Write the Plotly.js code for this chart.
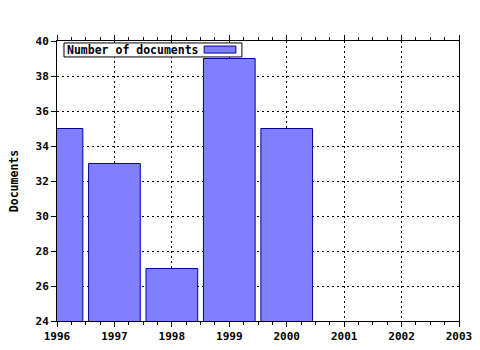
<!DOCTYPE html>
<html><head><meta charset="utf-8">
<script src="https://cdn.plot.ly/plotly-3.0.1.min.js"></script>
<style>html,body{margin:0;padding:0;background:#fff}#c{width:480px;height:350px}</style>
</head><body><div id="c"></div>
<script>
const years = [1996, 1997, 1998, 1999, 2000];
const documents = [35, 33, 27, 39, 35];
const seriesName = 'Number of documents';
const yTitle = 'Documents';
const xTicks = [1996, 1997, 1998, 1999, 2000, 2001, 2002, 2003];

const mono = 'DejaVu Sans Mono';

const trace = {
  type: 'bar', x: years, y: documents, name: seriesName, width: 0.9,
  marker: {color: '#8080ff', line: {color: '#0000a0', width: 1}},
  showlegend: false, hoverinfo: 'none'
};

const layout = {
  width: 480, height: 350,
  margin: {l: 57, r: 21, t: 41, b: 29},
  paper_bgcolor: '#ffffff', plot_bgcolor: '#ffffff',
  bargap: 0,
  xaxis: {
    range: [1996, 2003], tickvals: xTicks, ticktext: xTicks.map(String),
    ticks: 'outside', ticklen: 5, tickcolor: '#000', tickwidth: 1,
    showline: true, linecolor: '#000', linewidth: 1, mirror: 'ticks',
    showgrid: true, gridcolor: '#000', griddash: '2px,3px', gridwidth: 1,
    zeroline: false,
    minor: {dtick: 0.25, tick0: 1996, ticks: 'outside', ticklen: 3, tickcolor: '#000', showgrid: false},
    tickfont: {family: mono, size: 11, color: '#000', weight: 'bold'}
  },
  yaxis: {
    range: [24, 40], dtick: 2, tick0: 24,
    ticks: 'outside', ticklen: 5, tickcolor: '#000', tickwidth: 1,
    showline: true, linecolor: '#000', linewidth: 1, mirror: true,
    showgrid: true, gridcolor: '#000', griddash: '2px,3px', gridwidth: 1,
    zeroline: false,
    tickfont: {family: mono, size: 11, color: '#000', weight: 'bold'},
    title: {text: yTitle, standoff: 14, font: {family: mono, size: 11.5, color: '#000', weight: 'bold'}}
  },
  shapes: [
    {type: 'rect', xref: 'paper', yref: 'paper', x0: 0.0174, x1: 0.460, y0: 0.943, y1: 0.993,
     fillcolor: '#ffffff', line: {color: '#000', width: 1}, layer: 'above'},
    {type: 'rect', xref: 'paper', yref: 'paper', x0: 0.366, x1: 0.445, y0: 0.957, y1: 0.982,
     fillcolor: '#8080ff', line: {color: '#0000a0', width: 1}, layer: 'above'}
  ],
  annotations: [
    {xref: 'paper', yref: 'paper', x: 0.0199, y: 0.968, xanchor: 'left', yanchor: 'middle',
     text: seriesName, showarrow: false,
     font: {family: mono, size: 11.5, color: '#000', weight: 'bold'}}
  ]
};

Plotly.newPlot('c', [trace], layout, {staticPlot: true, displayModeBar: false});
</script></body></html>
